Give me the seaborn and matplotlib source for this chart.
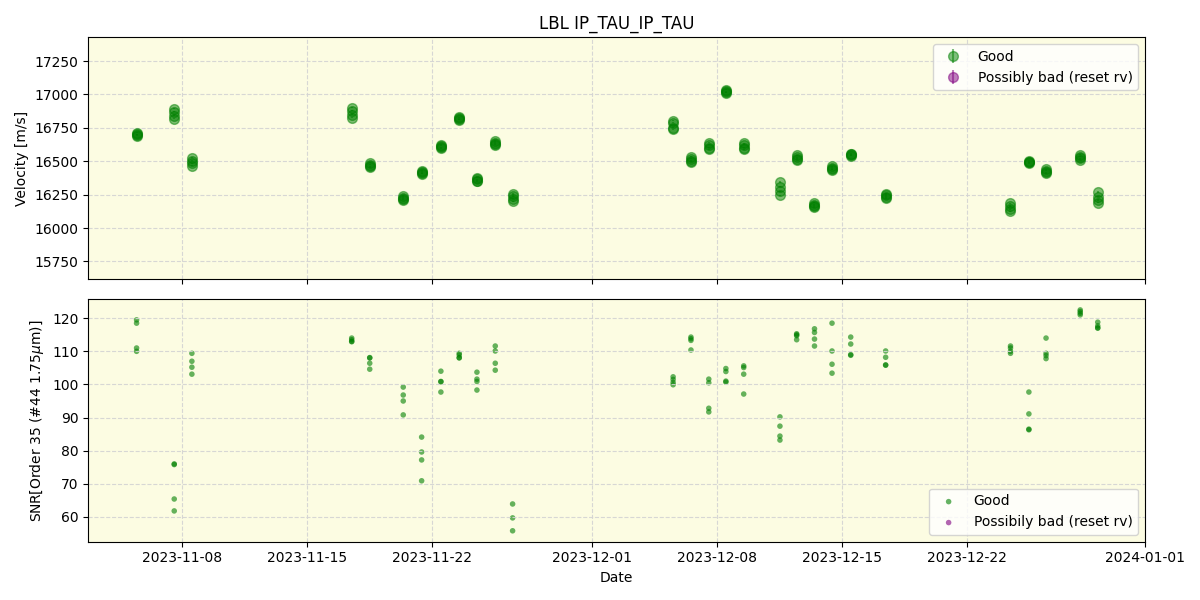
import pandas as pd
import numpy as np
import matplotlib
matplotlib.use('Agg')
import matplotlib.pyplot as plt
import seaborn as sns

# Datas das noites e quatro pontos por noite
nights = ['2023-11-05 11:00', '2023-11-07 13:40', '2023-11-08 13:25', '2023-11-17 12:30',
          '2023-11-18 12:45', '2023-11-20 09:50', '2023-11-21 10:35', '2023-11-22 12:30',
          '2023-11-23 13:10', '2023-11-24 13:00', '2023-11-25 13:40', '2023-11-26 13:00',
          '2023-12-05 13:00', '2023-12-06 13:00', '2023-12-07 13:00', '2023-12-08 12:00',
          '2023-12-09 12:00', '2023-12-11 12:45', '2023-12-12 11:15', '2023-12-13 11:15',
          '2023-12-14 10:50', '2023-12-15 12:00', '2023-12-17 11:00', '2023-12-24 11:00',
          '2023-12-25 11:45', '2023-12-26 10:50', '2023-12-28 08:50', '2023-12-29 08:25']

rv = [[16712, 16703, 16697, 16690], [16895, 16870, 16840, 16820], [16525, 16505, 16485, 16465],
      [16900, 16880, 16850, 16825], [16490, 16475, 16462, 16455], [16240, 16228, 16218, 16212],
      [16430, 16420, 16412, 16405], [16625, 16615, 16605, 16598], [16830, 16822, 16815, 16810],
      [16378, 16365, 16355, 16350], [16652, 16640, 16630, 16625], [16255, 16240, 16220, 16202],
      [16805, 16790, 16752, 16738], [16535, 16520, 16505, 16497], [16640, 16625, 16600, 16590],
      [17035, 17025, 17018, 17012], [16635, 16625, 16600, 16590], [16345, 16310, 16275, 16245],
      [16545, 16530, 16518, 16510], [16190, 16175, 16165, 16157], [16462, 16452, 16442, 16435],
      [16558, 16552, 16547, 16542], [16255, 16245, 16235, 16225], [16185, 16165, 16140, 16125],
      [16505, 16498, 16492, 16487], [16440, 16428, 16418, 16410], [16550, 16535, 16522, 16512],
      [16270, 16235, 16210, 16190]]

snr = [[119.5, 118.5, 111.0, 110.0], [76.0, 75.8, 65.4, 61.8], [109.4, 107.0, 105.2, 103.1],
       [114.0, 113.5, 113.0, 112.9], [108.1, 108.0, 106.4, 104.6], [99.2, 96.8, 95.0, 90.8],
       [84.1, 79.6, 77.2, 70.9], [104.0, 100.9, 100.8, 97.7], [109.4, 108.9, 108.1, 108.0],
       [103.7, 101.6, 100.9, 98.3], [111.6, 110.1, 106.4, 104.3], [63.9, 59.7, 55.8, np.nan],
       [102.3, 101.5, 100.6, 99.9], [114.3, 113.8, 113.3, 110.4], [101.6, 100.5, 92.8, 91.7],
       [104.8, 103.9, 101.0, 100.7], [105.6, 105.1, 103.1, 97.1], [90.2, 87.4, 84.4, 83.2],
       [115.3, 115.0, 114.7, 113.5], [116.8, 115.7, 113.7, 111.6], [118.5, 110.1, 106.1, 103.4],
       [114.3, 112.2, 109.0, 108.8], [110.1, 108.2, 105.9, 105.8], [111.6, 111.0, 110.0, 109.4],
       [97.7, 91.1, 86.5, 86.3], [114.0, 109.4, 108.7, 107.8], [122.5, 122.0, 121.5, 121.0],
       [118.8, 117.7, 117.1, 117.0]]

rv_err = 4.0

# Montar a tabela longa
rows = []
for n, d in enumerate(nights):
    for k in range(4):
        rows.append({'date': pd.Timestamp(d), 'rv': rv[n][k], 'snr': snr[n][k]})
df = pd.DataFrame(rows)

fig, (ax1, ax2) = plt.subplots(2, 1, figsize=(12, 6), dpi=100, sharex=True)
bg = '#fcfce2'

# Painel de velocidade
ax1.set_facecolor(bg)
ax1.errorbar(df['date'], df['rv'], yerr=rv_err, fmt='o', color='green', alpha=0.5,
             markersize=7, label='Good')
ax1.errorbar([], [], yerr=[], fmt='o', color='purple', alpha=0.5, markersize=7,
             label='Possibly bad (reset rv)')
ax1.set_ylim(15615, 17430)
ax1.set_ylabel('Velocity [m/s]')
ax1.set_title('LBL IP_TAU_IP_TAU')
ax1.grid(True, linestyle='--', color='lightgray', alpha=0.9)
ax1.legend(loc='upper right')

# Painel de SNR
ax2.set_facecolor(bg)
sns.scatterplot(data=df.dropna(), x='date', y='snr', ax=ax2, color='green', alpha=0.6, s=16,
                edgecolor='none', label='Good')
ax2.scatter([], [], color='purple', alpha=0.6, s=16, edgecolor='none',
            label='Possibily bad (reset rv)')
ax2.set_ylim(52.5, 125.7)
ax2.set_ylabel('SNR[Order 35 (#44 1.75$\\mu$m)]')
ax2.set_xlabel('Date')
ax2.grid(True, linestyle='--', color='lightgray', alpha=0.9)
ax2.legend(loc='lower right')

ax2.set_xlim(pd.Timestamp('2023-11-02 18:00'), pd.Timestamp('2024-01-01 00:00'))

plt.tight_layout()
plt.savefig('out.png')
